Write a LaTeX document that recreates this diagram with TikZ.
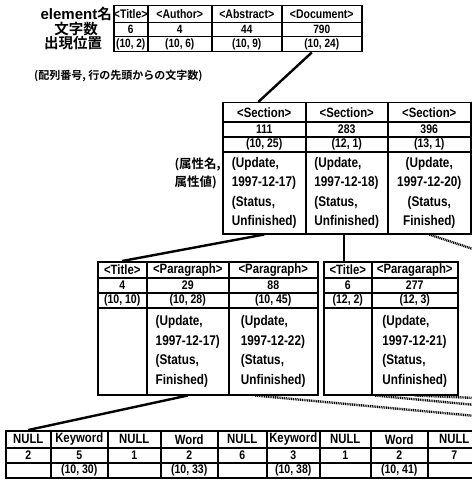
\documentclass[tikz,border=0pt]{standalone}
\usepackage{fontspec}
\newfontfamily\tf{Liberation Sans Bold}[FakeStretch=0.84]
\newfontfamily\tfw{Liberation Sans Bold}
\newfontfamily\jf{Noto Sans CJK JP Bold}
\tikzset{
  cell/.style={draw, line width=1.5pt, inner sep=0pt, anchor=north west, align=center,
    font=\tf\fontsize{13.5}{19.5}\selectfont},
  ncell/.style={cell, font=\tf\fontsize{12.5}{15}\selectfont},
  tcell/.style={cell, font=\tf\fontsize{12.5}{15}\selectfont},
  tncell/.style={cell, font=\tf\fontsize{12}{15}\selectfont},
  acell/.style={cell, align=left, font=\tf\fontsize{14}{19.5}\selectfont},
  lbl/.style={inner sep=0pt, font=\jf\fontsize{14.5}{15}\selectfont},
  conn/.style={line width=2.4pt},
  dconn/.style={line width=2.4pt, dash pattern=on 1pt off 0.8pt},
}
\newcommand\cellat[7][cell]{\node[#1, minimum width=#5pt, minimum height=#6pt] (#2) at (#3,#4) {#7};}
\begin{document}
\begin{tikzpicture}[x=1pt,y=-1pt]
\useasboundingbox (0,0) rectangle (471,492);
% ---- top table ----
\cellat[tcell]{tT1}{113}{5}{34}{17}{<Title>}
\cellat[tncell]{tT2}{113}{22}{34}{14}{6}
\cellat[tncell]{tT3}{113}{36}{34}{15}{(10, 2)}
\cellat[tcell]{tA1}{147}{5}{64}{17}{<Author>}
\cellat[tncell]{tA2}{147}{22}{64}{14}{4}
\cellat[tncell]{tA3}{147}{36}{64}{15}{(10, 6)}
\cellat[tcell]{tB1}{211}{5}{70}{17}{<Abstract>}
\cellat[tncell]{tB2}{211}{22}{70}{14}{44}
\cellat[tncell]{tB3}{211}{36}{70}{15}{(10, 9)}
\cellat[tcell]{tD1}{281}{5}{80}{17}{<Document>}
\cellat[tncell]{tD2}{281}{22}{80}{14}{790}
\cellat[tncell]{tD3}{281}{36}{80}{15}{(10, 24)}
\node[lbl, anchor=east] (lbA) at (112,13.5) {{\tfw\fontsize{15}{15}\selectfont element}名};
\node[lbl] (lbB) at (76,29) {文字数};
\node[lbl] (lbC) at (73,43.5) {出現位置};
\node[lbl, anchor=west, font=\jf\fontsize{11}{12}\selectfont] (lbD) at (34,76) {(配列番号, 行の先頭からの文字数)};
% ---- section table ----
\cellat{s1a}{222}{102}{83}{19}{<Section>}
\cellat[ncell]{s1b}{222}{121}{83}{15}{111}
\cellat[ncell]{s1c}{222}{136}{83}{15}{(10, 25)}
\cellat[acell]{s1d}{222}{151}{83}{82}{(Update,\\1997-12-17)\\(Status,\\Unfinished)}
\cellat{s2a}{305}{102}{82}{19}{<Section>}
\cellat[ncell]{s2b}{305}{121}{82}{15}{283}
\cellat[ncell]{s2c}{305}{136}{82}{15}{(12, 1)}
\cellat[acell]{s2d}{305}{151}{82}{82}{(Update,\\1997-12-18)\\(Status,\\Unfinished)}
\cellat{s3a}{387}{102}{83}{19}{<Section>}
\cellat[ncell]{s3b}{387}{121}{83}{15}{396}
\cellat[ncell]{s3c}{387}{136}{83}{15}{(13, 1)}
\cellat[cell, font=\tf\fontsize{14}{19.5}\selectfont]{s3d}{387}{151}{83}{82}{(Update,\\1997-12-20)\\(Status,\\Finished)}
\node[lbl, anchor=north east, align=left, font=\jf\fontsize{12.5}{18}\selectfont] (lbE) at (221,158) {(属性名,\\属性値)};
% ---- level 3 left ----
\cellat{l1a}{97}{261}{49}{16}{<Title>}
\cellat[ncell]{l1b}{97}{277}{49}{15}{4}
\cellat[ncell]{l1c}{97}{292}{49}{15}{(10, 10)}
\cellat{l1d}{97}{307}{49}{87}{}
\cellat{l2a}{146}{261}{82}{16}{<Paragraph>}
\cellat[ncell]{l2b}{146}{277}{82}{15}{29}
\cellat[ncell]{l2c}{146}{292}{82}{15}{(10, 28)}
\cellat[acell]{l2d}{146}{307}{82}{87}{(Update,\\1997-12-17)\\(Status,\\Finished)}
\cellat{l3a}{228}{261}{89}{16}{<Paragraph>}
\cellat[ncell]{l3b}{228}{277}{89}{15}{88}
\cellat[ncell]{l3c}{228}{292}{89}{15}{(10, 45)}
\cellat[acell]{l3d}{228}{307}{89}{87}{(Update,\\1997-12-22)\\(Status,\\Unfinished)}
% ---- level 3 right ----
\cellat{r1a}{323}{261}{48}{16}{<Title>}
\cellat[ncell]{r1b}{323}{277}{48}{15}{6}
\cellat[ncell]{r1c}{323}{292}{48}{15}{(12, 2)}
\cellat{r1d}{323}{307}{48}{87}{}
\cellat{r2a}{371}{261}{86}{16}{<Paragaraph>}
\cellat[ncell]{r2b}{371}{277}{86}{15}{277}
\cellat[ncell]{r2c}{371}{292}{86}{15}{(12, 3)}
\cellat[acell]{r2d}{371}{307}{86}{87}{(Update,\\1997-12-21)\\(Status,\\Unfinished)}
% ---- bottom table ----
\cellat{b1a}{5}{430}{45}{17}{NULL}
\cellat[ncell]{b1b}{5}{447}{45}{15}{2}
\cellat[ncell]{b1c}{5}{462}{45}{15}{}
\cellat{b2a}{50}{430}{57}{17}{Keyword}
\cellat[ncell]{b2b}{50}{447}{57}{15}{5}
\cellat[ncell]{b2c}{50}{462}{57}{15}{(10, 30)}
\cellat{b3a}{107}{430}{53}{17}{NULL}
\cellat[ncell]{b3b}{107}{447}{53}{15}{1}
\cellat[ncell]{b3c}{107}{462}{53}{15}{}
\cellat{b4a}{160}{430}{57}{17}{Word}
\cellat[ncell]{b4b}{160}{447}{57}{15}{2}
\cellat[ncell]{b4c}{160}{462}{57}{15}{(10, 33)}
\cellat{b5a}{217}{430}{49}{17}{NULL}
\cellat[ncell]{b5b}{217}{447}{49}{15}{6}
\cellat[ncell]{b5c}{217}{462}{49}{15}{}
\cellat{b6a}{266}{430}{53}{17}{Keyword}
\cellat[ncell]{b6b}{266}{447}{53}{15}{3}
\cellat[ncell]{b6c}{266}{462}{53}{15}{(10, 38)}
\cellat{b7a}{319}{430}{51}{17}{NULL}
\cellat[ncell]{b7b}{319}{447}{51}{15}{1}
\cellat[ncell]{b7c}{319}{462}{51}{15}{}
\cellat{b8a}{370}{430}{57}{17}{Word}
\cellat[ncell]{b8b}{370}{447}{57}{15}{2}
\cellat[ncell]{b8c}{370}{462}{57}{15}{(10, 41)}
\cellat{b9a}{427}{430}{53}{17}{NULL}
\cellat[ncell]{b9b}{427}{447}{53}{15}{7}
\cellat[ncell]{b9c}{427}{462}{53}{15}{}
% ---- connectors ----
\coordinate (e1) at (476,250);
\coordinate (e2) at (476,416);
\coordinate (e3) at (476,405);
\coordinate (e4) at (476,398);
\draw[conn] ([xshift=-10pt]tD3.south) -- ([xshift=-6pt]s1a.north);
\draw[conn] (s1d.south) -- (l1a.north);
\draw[conn] ([xshift=-3pt]s2d.south) -- ([xshift=-3pt]s2d.south |- r1a.north);
\draw[dconn] (s3d.south) -- (e1);
\draw[conn] (l2d.south) -- (b1a.north);
\draw[dconn] ([xshift=-18pt]l3d.south) -- (e2);
\draw[dconn] ([xshift=4pt]r2d.south west) -- (e3);
\draw[dconn] (r2d.south) -- (e4);
\end{tikzpicture}
\end{document}
